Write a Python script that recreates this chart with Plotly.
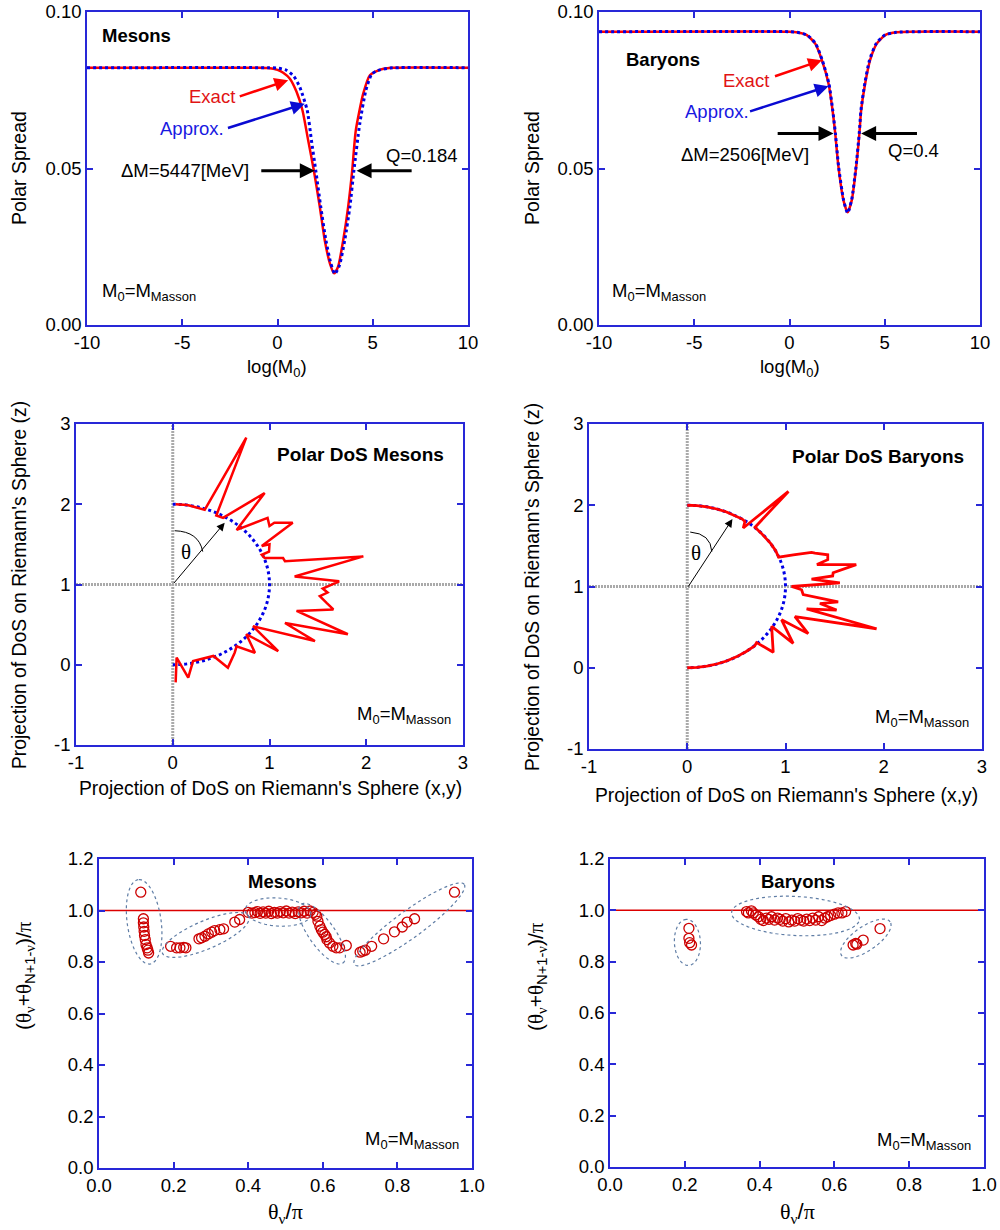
import numpy as np
import plotly.graph_objects as go

# ---------------- DATA ----------------
# Panel 1: Mesons polar spread vs log(M0)
mes_exact_x = [-10, -1.0, -0.5, 0.0, 0.3, 0.65, 1.0, 1.31, 1.61, 1.91, 2.22, 2.48, 2.75, 2.97, 3.18, 3.45, 3.71, 3.92, 4.11, 4.5, 4.85, 5.4, 6.1, 10]
mes_exact_y = [0.0822, 0.0822, 0.0821, 0.0815, 0.0806, 0.0787, 0.0745, 0.0686, 0.0590, 0.0493, 0.0378, 0.0271, 0.0197, 0.0165, 0.0186, 0.0271, 0.0378, 0.0493, 0.0622, 0.0739, 0.0798, 0.0816, 0.0822, 0.0822]
mes_approx_x = [-10, -0.5, 0.0, 0.47, 0.85, 1.17, 1.56, 1.78, 2.01, 2.27, 2.54, 2.8, 3.01, 3.25, 3.53, 3.8, 4.01, 4.32, 4.64, 4.93, 5.2, 5.9, 10]
mes_approx_y = [0.0822, 0.0822, 0.0821, 0.0814, 0.0795, 0.0760, 0.0686, 0.0590, 0.0493, 0.0378, 0.0271, 0.0197, 0.0163, 0.0190, 0.0271, 0.0378, 0.0493, 0.0644, 0.0750, 0.0800, 0.0812, 0.0821, 0.0822]

# Panel 2: Baryons polar spread vs log(M0)
bar_exact_x = [-10, 0.0, 0.38, 0.91, 1.35, 1.70, 2.05, 2.26, 2.40, 2.57, 2.83, 3.05, 3.27, 3.50, 3.67, 3.76, 3.97, 4.23, 4.58, 5.02, 5.63, 10]
bar_exact_y = [0.0937, 0.0937, 0.0935, 0.0926, 0.0899, 0.0846, 0.0771, 0.0686, 0.0612, 0.0505, 0.0399, 0.0360, 0.0399, 0.0505, 0.0612, 0.0686, 0.0771, 0.0846, 0.0899, 0.0926, 0.0935, 0.0937]
bar_approx_x = [-10, 0.0, 0.40, 0.93, 1.37, 1.72, 2.07, 2.27, 2.41, 2.58, 2.84, 3.05, 3.26, 3.49, 3.66, 3.75, 3.95, 4.20, 4.55, 5.00, 5.60, 10]
bar_approx_y = [0.0937, 0.0937, 0.0935, 0.0926, 0.0899, 0.0846, 0.0771, 0.0686, 0.0612, 0.0505, 0.0399, 0.0358, 0.0399, 0.0505, 0.0612, 0.0686, 0.0771, 0.0846, 0.0899, 0.0926, 0.0935, 0.0937]

# Panel 3: Polar DoS mesons (projection on Riemann sphere)
mes_dos_x = [0.03, 0.15, 0.20, 0.30, 0.33, 0.76, 0.45, 0.52, 0.95, 0.66, 0.98, 1.00, 1.05, 1.24, 0.92, 1.00, 0.995, 0.92, 0.95, 1.14, 1.16, 1.97, 1.26, 1.72,
             1.55, 1.60, 1.52, 1.59, 1.66, 1.28, 1.81, 1.16, 1.47, 0.83, 1.09, 0.76, 0.85, 0.66, 0.64, 0.57, 0.42, 0.21, 0.16, 0.04, 0.03]
mes_dos_y = [2.00, 1.99, 1.975, 1.94, 1.93, 2.83, 1.86, 1.83, 2.14, 1.68, 1.83, 1.73, 1.77, 1.77, 1.48, 1.50, 1.41, 1.37, 1.33, 1.33, 1.29, 1.35, 1.10, 1.04,
             0.95, 0.90, 0.855, 0.77, 0.69, 0.67, 0.38, 0.52, 0.295, 0.48, 0.17, 0.38, 0.15, 0.23, 0.15, -0.036, 0.11, 0.046, -0.16, 0.09, -0.22]

# Panel 4: Polar DoS baryons
bar_dos_x = [0.0, 0.1, 0.2, 0.3, 0.4, 0.5, 0.56, 0.587, 0.57, 1.03, 0.69, 0.75, 0.80, 0.85, 0.90, 0.93, 1.08, 1.265, 1.30, 1.43, 1.43, 1.32, 1.72, 1.485,
             1.48, 1.265, 1.553, 1.30, 1.062, 1.164, 1.18, 1.536, 1.35, 1.52, 1.215, 1.927, 1.096, 1.231, 0.96, 1.078, 0.859, 0.875, 0.706,
             0.687, 0.6, 0.5, 0.4, 0.3, 0.2, 0.1, 0.0]
bar_dos_y = [2.0, 1.995, 1.98, 1.954, 1.917, 1.866, 1.83, 1.80, 1.72, 2.17, 1.73, 1.66, 1.60, 1.527, 1.44, 1.36, 1.39, 1.42, 1.41, 1.39, 1.33, 1.27, 1.27, 1.17,
             1.13, 1.09, 1.045, 1.02, 1.0, 0.96, 0.90, 0.81, 0.79, 0.71, 0.725, 0.48, 0.63, 0.42, 0.59, 0.30, 0.51, 0.19, 0.31,
             0.27, 0.2, 0.134, 0.083, 0.046, 0.02, 0.005, 0.0]

# Panel 5: Mesons (theta_v + theta_{N+1-v})/pi vs theta_v/pi
mes_th_x = [0.112, 0.119, 0.119, 0.120, 0.121, 0.122, 0.124, 0.126, 0.129, 0.131, 0.133,
            0.192, 0.208, 0.217, 0.227, 0.233, 0.268, 0.275, 0.284, 0.293, 0.302, 0.310, 0.324, 0.334, 0.364, 0.377,
            0.400, 0.410, 0.418, 0.425, 0.432, 0.440, 0.447, 0.455, 0.462, 0.470, 0.478, 0.486, 0.494, 0.502, 0.510, 0.518,
            0.526, 0.534, 0.542, 0.550, 0.558, 0.566, 0.574, 0.580,
            0.584, 0.587, 0.592, 0.596, 0.600, 0.605, 0.609, 0.611, 0.618, 0.627, 0.636, 0.645, 0.663,
            0.700, 0.707, 0.714, 0.731, 0.763, 0.792, 0.813, 0.826, 0.846, 0.953]
mes_th_y = [1.071, 0.968, 0.952, 0.936, 0.919, 0.903, 0.887, 0.868, 0.855, 0.846, 0.835,
            0.861, 0.855, 0.855, 0.857, 0.855, 0.890, 0.894, 0.900, 0.909, 0.916, 0.922, 0.926, 0.929, 0.955, 0.965,
            0.993, 0.990, 0.992, 0.996, 0.989, 0.995, 0.990, 0.997, 0.988, 0.993, 0.990, 0.996, 0.991, 0.998, 0.990, 0.994,
            0.988, 0.995, 0.991, 0.997, 0.990, 0.998, 0.993, 0.985,
            0.978, 0.958, 0.939, 0.926, 0.916, 0.907, 0.898, 0.887, 0.874, 0.861, 0.855, 0.855, 0.864,
            0.838, 0.842, 0.846, 0.861, 0.890, 0.917, 0.936, 0.955, 0.968, 1.071]

# Panel 6: Baryons
bar_th_x = [0.211, 0.211, 0.213, 0.218,
            0.365, 0.370, 0.378, 0.383, 0.390, 0.397, 0.403, 0.410, 0.418, 0.425, 0.432, 0.440, 0.448, 0.455, 0.462, 0.470,
            0.478, 0.486, 0.494, 0.502, 0.510, 0.518, 0.526, 0.534, 0.542, 0.550, 0.558, 0.566, 0.574, 0.582, 0.590, 0.600,
            0.610, 0.620, 0.630,
            0.650, 0.657, 0.660, 0.677, 0.722]
bar_th_y = [0.930, 0.891, 0.874, 0.865,
            0.995, 0.990, 0.998, 0.990, 0.982, 0.975, 0.965, 0.960, 0.970, 0.965, 0.975, 0.962, 0.970, 0.965, 0.958, 0.968,
            0.955, 0.962, 0.958, 0.968, 0.962, 0.958, 0.966, 0.960, 0.970, 0.962, 0.975, 0.960, 0.970, 0.975, 0.980, 0.985,
            0.990, 0.990, 0.995,
            0.865, 0.871, 0.868, 0.884, 0.929]

x_ticks_top = [-10, -5, 0, 5, 10]
x_ticks_top_lbl = ["-10", "-5", "0", "5", "10"]
y_ticks_top = [0, 0.05, 0.10]
y_ticks_top_lbl = ["0.00", "0.05", "0.10"]
ticks_mid = [-1, 0, 1, 2, 3]
ticks_mid_lbl = ["-1", "0", "1", "2", "3"]
x_ticks_bot = [0, 0.2, 0.4, 0.6, 0.8, 1.0]
x_ticks_bot_lbl = ["0.0", "0.2", "0.4", "0.6", "0.8", "1.0"]
y_ticks_bot = [0, 0.2, 0.4, 0.6, 0.8, 1.0, 1.2]
y_ticks_bot_lbl = ["0.0", "0.2", "0.4", "0.6", "0.8", "1.0", "1.2"]

# ---------------- STYLE ----------------
FONT = "Arial, 'Liberation Sans', sans-serif"
SERIF = "'Liberation Serif', 'Times New Roman', serif"
AXC = "rgb(40,40,215)"
RED = "rgb(255,0,0)"
BLUE = "rgb(0,0,230)"
DRED = "rgb(204,0,0)"
GRAY = "rgb(170,170,170)"
W, H = 1000, 1230

def dom_x(a, b):
    return [a / W, b / W]

def dom_y(top, bot):
    return [1 - bot / H, 1 - top / H]

def axis(domain, rng, tv, tt, anchor):
    return dict(domain=domain, range=rng, tickvals=tv, ticktext=tt, anchor=anchor,
                showline=True, linecolor=AXC, linewidth=1.5, mirror="ticks",
                ticks="inside", ticklen=6, tickwidth=1.5, tickcolor=AXC,
                showgrid=False, zeroline=False, automargin=False,
                tickfont=dict(size=18.5, color="black", family=FONT))

fig = go.Figure()

# Panel 1
fig.add_trace(go.Scatter(x=mes_exact_x, y=mes_exact_y, mode="lines", line=dict(color=RED, width=2.5, shape="spline", smoothing=0.6), xaxis="x", yaxis="y"))
fig.add_trace(go.Scatter(x=mes_approx_x, y=mes_approx_y, mode="lines", line=dict(color=BLUE, width=3, dash="dot", shape="spline", smoothing=0.6), xaxis="x", yaxis="y"))
# Panel 2
fig.add_trace(go.Scatter(x=bar_exact_x, y=bar_exact_y, mode="lines", line=dict(color=RED, width=2.5, shape="spline", smoothing=0.6), xaxis="x2", yaxis="y2"))
fig.add_trace(go.Scatter(x=bar_approx_x, y=bar_approx_y, mode="lines", line=dict(color=BLUE, width=3, dash="dot", shape="spline", smoothing=0.6), xaxis="x2", yaxis="y2"))
# Panel 3, 4
fig.add_trace(go.Scatter(x=mes_dos_x, y=mes_dos_y, mode="lines", line=dict(color=RED, width=2.5), xaxis="x3", yaxis="y3"))
fig.add_trace(go.Scatter(x=bar_dos_x, y=bar_dos_y, mode="lines", line=dict(color=RED, width=2.8), xaxis="x4", yaxis="y4"))
# Panel 5, 6
fig.add_trace(go.Scatter(x=mes_th_x, y=mes_th_y, mode="markers", marker=dict(symbol="circle-open", size=10, color=DRED, line=dict(width=1.3, color=DRED)), xaxis="x5", yaxis="y5"))
fig.add_trace(go.Scatter(x=bar_th_x, y=bar_th_y, mode="markers", marker=dict(symbol="circle-open", size=10, color=DRED, line=dict(width=1.3, color=DRED)), xaxis="x6", yaxis="y6"))

shapes = []
# gray guide lines and blue semicircle in polar panels
for xr, yr in (("x3", "y3"), ("x4", "y4")):
    shapes.append(dict(type="line", xref=xr, yref=yr, x0=0, x1=0, y0=-1, y1=3, line=dict(color=GRAY, width=3, dash="2px,1px"), layer="below"))
    shapes.append(dict(type="line", xref=xr, yref=yr, x0=-1, x1=3, y0=1, y1=1, line=dict(color=GRAY, width=3, dash="2px,1px"), layer="below"))
    k = 0.5523
    shapes.append(dict(type="path", xref=xr, yref=yr, layer="below",
                       path=f"M 0,2 C {k},2 1,{1+k} 1,1 C 1,{1-k} {k},0 0,0",
                       line=dict(color=BLUE, width=3, dash="dot")))
# theta arcs
shapes.append(dict(type="path", xref="x3", yref="y3", path="M 0.02,1.67 Q 0.27,1.66 0.31,1.41", line=dict(color="black", width=1)))
shapes.append(dict(type="path", xref="x4", yref="y4", path="M 0.03,1.67 Q 0.24,1.65 0.25,1.43", line=dict(color="black", width=1)))
# red reference lines at 1.0
for xr, yr in (("x5", "y5"), ("x6", "y6")):
    shapes.append(dict(type="line", xref=xr, yref=yr, x0=0, x1=1, y0=1, y1=1, line=dict(color="rgb(220,0,0)", width=1.5), layer="below"))

def ellipse_path(cx, cy, a, b, ang, sx, sy, n=72):
    t = np.linspace(0, 2 * np.pi, n)
    phi = np.radians(ang)
    dx = a * np.cos(t) * np.cos(phi) - b * np.sin(t) * np.sin(phi)
    dy = a * np.cos(t) * np.sin(phi) + b * np.sin(t) * np.cos(phi)
    xs = cx + dx / sx
    ys = cy + dy / sy
    return "M " + " L ".join(f"{x:.4f},{y:.4f}" for x, y in zip(xs, ys)) + " Z"

ELC = "rgb(95,125,165)"
mes_ell = [(0.121, 0.956, 42.5, 17, 98), (0.286, 0.905, 47, 14, 23), (0.48, 0.994, 33, 14, -4),
           (0.598, 0.91, 36, 13, -54.5), (0.832, 0.946, 68, 13.5, 36)]
bar_ell = [(0.207, 0.875, 23, 13, 93), (0.496, 0.978, 64, 19.5, -3), (0.684, 0.89, 29.5, 12, 34.6)]
for e in mes_ell:
    shapes.append(dict(type="path", xref="x5", yref="y5", path=ellipse_path(*e, 373.7, 257), line=dict(color=ELC, width=1.2, dash="dot")))
for e in bar_ell:
    shapes.append(dict(type="path", xref="x6", yref="y6", path=ellipse_path(*e, 373.7, 256.3), line=dict(color=ELC, width=1.2, dash="dot")))

ann = []
def txt(xr, yr, x, y, text, size=18.5, color="black", xa="center", ya="middle", family=FONT, angle=0):
    ann.append(dict(xref=xr, yref=yr, x=x, y=y, text=text, showarrow=False, xanchor=xa, yanchor=ya,
                    textangle=angle, font=dict(size=size, color=color, family=family)))

def arrow(xr, yr, x0, y0, x1, y1, color, width, size=1.0, head=2):
    ann.append(dict(xref=xr, yref=yr, axref=xr, ayref=yr, x=x1, y=y1, ax=x0, ay=y0, text="",
                    showarrow=True, arrowhead=head, arrowsize=size, arrowwidth=width, arrowcolor=color, standoff=0))

MM = "M<sub>0</sub>=M<sub>Masson</sub>"
# Panel 1
txt("x", "y", -9.33, 0.0926, "<b>Mesons</b>", xa="left")
txt("x", "y", -3.46, 0.0729, "Exact", color="rgb(225,20,20)")
arrow("x", "y", -2.06, 0.0729, 0.56, 0.0782, RED, 2.5, 1.1)
txt("x", "y", -4.48, 0.0628, "Approx.", color="rgb(25,25,225)")
arrow("x", "y", -2.68, 0.0628, 1.43, 0.0707, "rgb(10,10,210)", 2.5, 1.1)
txt("x", "y", -4.86, 0.0495, "ΔM=5447[MeV]")
arrow("x", "y", -0.93, 0.0493, 1.96, 0.0493, "black", 3, 1.0)
txt("x", "y", 7.59, 0.0543, "Q=0.184")
arrow("x", "y", 7.12, 0.0493, 4.15, 0.0493, "black", 3, 1.0)
txt("x", "y", -9.33, 0.0105, MM, xa="left")
# Panel 2
txt("x2", "y2", -8.71, 0.0848, "<b>Baryons</b>", xa="left")
txt("x2", "y2", -2.29, 0.0782, "Exact", color="rgb(225,20,20)")
arrow("x2", "y2", -0.84, 0.0793, 1.70, 0.0846, RED, 2.5, 1.1)
txt("x2", "y2", -3.78, 0.0681, "Approx.", color="rgb(25,25,225)")
arrow("x2", "y2", -2.15, 0.0681, 2.05, 0.0763, "rgb(10,10,210)", 2.5, 1.1)
arrow("x2", "y2", -0.70, 0.0612, 2.31, 0.0612, "black", 3, 1.0)
arrow("x2", "y2", 6.77, 0.0612, 3.76, 0.0612, "black", 3, 1.0)
txt("x2", "y2", -2.33, 0.0546, "ΔM=2506[MeV]")
txt("x2", "y2", 6.51, 0.0559, "Q=0.4")
txt("x2", "y2", -9.41, 0.0105, MM, xa="left")
# Panel 3
txt("x3", "y3", 1.94, 2.62, "<b>Polar DoS Mesons</b>", size=19)
txt("x3", "y3", 2.895, -0.63, MM, xa="right")
arrow("x3", "y3", 0, 1, 0.537, 1.77, "black", 1, 1.6)
txt("x3", "y3", 0.134, 1.41, "θ", size=21, family=SERIF)
# Panel 4
txt("x4", "y4", 1.94, 2.60, "<b>Polar DoS Baryons</b>", size=19)
txt("x4", "y4", 2.89, -0.62, MM, xa="right")
arrow("x4", "y4", 0, 0.98, 0.46, 1.83, "black", 1, 1.6)
txt("x4", "y4", 0.09, 1.41, "θ", size=21, family=SERIF)
# Panel 5, 6
txt("x5", "y5", 0.492, 1.113, "<b>Mesons</b>")
txt("x5", "y5", 0.971, 0.11, MM, xa="right")
txt("x6", "y6", 0.503, 1.112, "<b>Baryons</b>")
txt("x6", "y6", 0.971, 0.10, MM, xa="right")

# axis titles (paper coordinates)
def ptxt(px, py, text, size=18, angle=0):
    txt("paper", "paper", px / W, 1 - py / H, text, size=size, angle=angle)

ptxt(277, 368, "log(M<sub>0</sub>)", size=18.5)
ptxt(790, 368, "log(M<sub>0</sub>)", size=18.5)
ptxt(19, 168, "Polar Spread", size=19.5, angle=-90)
ptxt(532, 168, "Polar Spread", size=19.5, angle=-90)
ptxt(270, 788, "Projection of DoS on Riemann's Sphere (x,y)", size=19.3)
ptxt(786, 795, "Projection of DoS on Riemann's Sphere (x,y)", size=19.3)
ptxt(19, 585, "Projection of DoS on Riemann's Sphere (z)", size=19.3, angle=-90)
ptxt(532, 587, "Projection of DoS on Riemann's Sphere (z)", size=19.3, angle=-90)
S = lambda c: f'<span style="font-family:{SERIF}">{c}</span>'
th_x = S("θ") + "<sub>" + S("ν") + "</sub>/" + S("π")
th_y = "(" + S("θ") + "<sub>" + S("ν") + "</sub>+" + S("θ") + "<sub>N+1-" + S("ν") + "</sub>)/" + S("π")
ptxt(285, 1213, th_x, size=22)
ptxt(797, 1213, th_x, size=22)
ptxt(25, 976, th_y, size=21, angle=-90)
ptxt(537, 977, th_y, size=21, angle=-90)

fig.update_layout(
    width=W, height=H, margin=dict(l=0, r=0, t=0, b=0),
    template="none", showlegend=False,
    paper_bgcolor="white", plot_bgcolor="white",
    font=dict(family=FONT, size=18, color="black"),
    xaxis=axis(dom_x(87, 468), [-10, 10], x_ticks_top, x_ticks_top_lbl, "y"),
    yaxis=axis(dom_y(12, 325), [0, 0.10], y_ticks_top, y_ticks_top_lbl, "x"),
    xaxis2=axis(dom_x(599, 980), [-10, 10], x_ticks_top, x_ticks_top_lbl, "y2"),
    yaxis2=axis(dom_y(12, 325), [0, 0.10], y_ticks_top, y_ticks_top_lbl, "x2"),
    xaxis3=axis(dom_x(76, 463), [-1, 3], ticks_mid, ticks_mid_lbl, "y3"),
    yaxis3=axis(dom_y(424, 745), [-1, 3], ticks_mid, ticks_mid_lbl, "x3"),
    xaxis4=axis(dom_x(589, 982), [-1, 3], ticks_mid, ticks_mid_lbl, "y4"),
    yaxis4=axis(dom_y(424, 749), [-1, 3], ticks_mid, ticks_mid_lbl, "x4"),
    xaxis5=axis(dom_x(99, 472), [0, 1], x_ticks_bot, x_ticks_bot_lbl, "y5"),
    yaxis5=axis(dom_y(859, 1168), [0, 1.2], y_ticks_bot, y_ticks_bot_lbl, "x5"),
    xaxis6=axis(dom_x(610, 984), [0, 1], x_ticks_bot, x_ticks_bot_lbl, "y6"),
    yaxis6=axis(dom_y(859, 1167), [0, 1.2], y_ticks_bot, y_ticks_bot_lbl, "x6"),
    shapes=shapes, annotations=ann,
)

fig.write_html("out.html", config={"displayModeBar": False},
               post_script="document.body.style.margin='0';")
